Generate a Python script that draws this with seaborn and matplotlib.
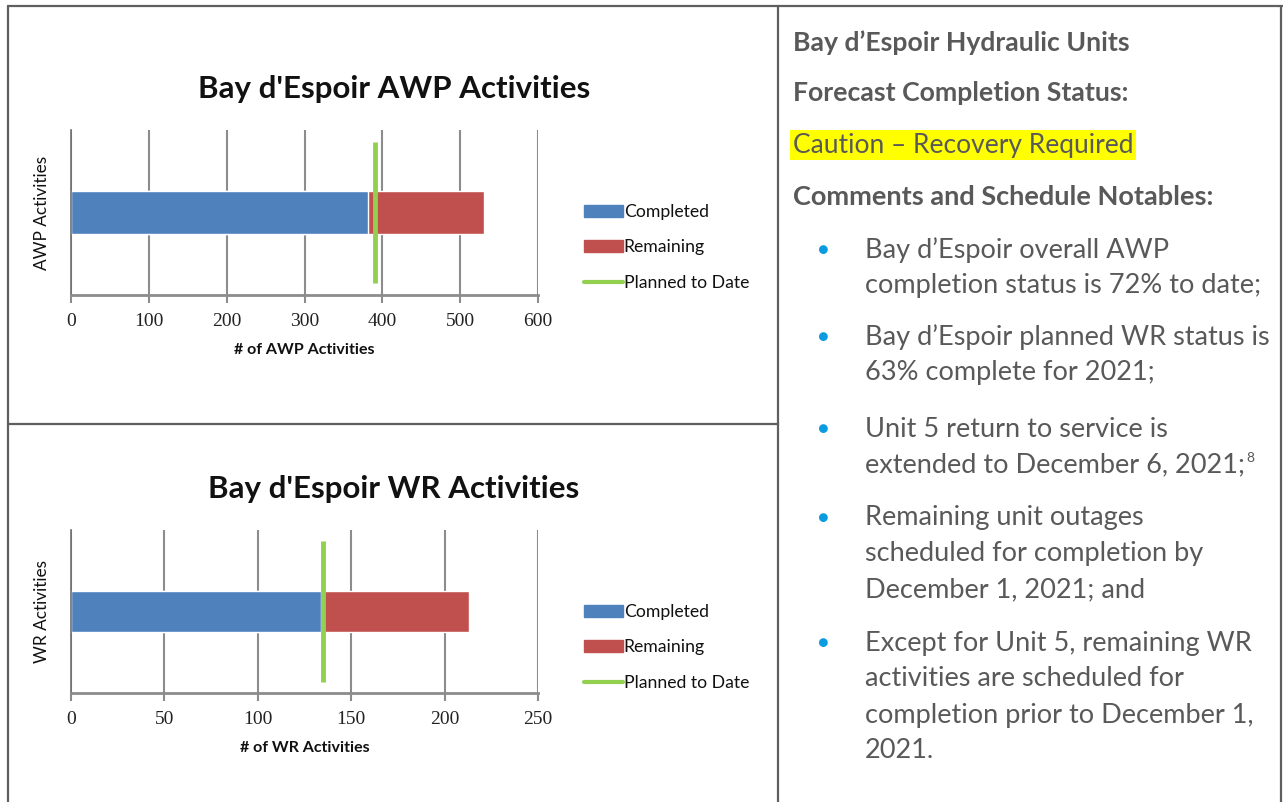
import matplotlib.pyplot as plt
import matplotlib.lines as mlines
import matplotlib.patches as mpatches
import pandas as pd
import seaborn as sns

# values
awp_completed = [381]
awp_remaining = [149]
awp_planned = [391]
wr_completed = [134]
wr_remaining = [79]
wr_planned = [135]

awp_ticks = [0, 100, 200, 300, 400, 500, 600]
wr_ticks = [0, 50, 100, 150, 200, 250]
series_names = ['Completed', 'Remaining', 'Planned to Date']

heading_lines = ['Bay d\u2019Espoir Hydraulic Units', 'Forecast Completion Status:']
status_text = 'Caution \u2013 Recovery Required'
notables_title = 'Comments and Schedule Notables:'
bullets = [
    ['Bay d\u2019Espoir overall AWP', 'completion status is 72% to date;'],
    ['Bay d\u2019Espoir planned WR status is', '63% complete for 2021;'],
    ['Unit 5 return to service is', 'extended to December 6, 2021;'],
    ['Remaining unit outages', 'scheduled for completion by', 'December 1, 2021; and'],
    ['Except for Unit 5, remaining WR', 'activities are scheduled for',
     'completion prior to December 1,', '2021.'],
]

sns.set_theme(style='white')
plt.rcParams['font.family'] = ['Lato', 'DejaVu Sans']

W, H = 1283, 802
fig = plt.figure(figsize=(W / 100, H / 100), dpi=100)

BLUE = '#4F81BD'
RED = '#C0504D'
GREEN = '#92D050'
GRID = '#8c8c8c'
TXT = '#595959'


def px(x, y):
    return x / W, 1 - y / H


def draw_chart(rect, completed, remaining, planned, ticks, title, xlabel, ylabel):
    x0, y0, x1, y1 = rect
    ax = fig.add_axes([x0 / W, 1 - y1 / H, (x1 - x0) / W, (y1 - y0) / H])
    df = pd.DataFrame({'cat': [ylabel],
                       'total': [completed[0] + remaining[0]],
                       'done': completed})
    sns.barplot(data=df, x='total', y='cat', color=RED, saturation=1,
                width=0.255, ax=ax, orient='h')
    sns.barplot(data=df, x='done', y='cat', color=BLUE, saturation=1,
                width=0.255, ax=ax, orient='h')
    ax.vlines(planned, -0.43, 0.43, color=GREEN, lw=3.5, zorder=5)
    ax.set_xlim(ticks[0], ticks[-1])
    ax.set_ylim(0.5, -0.5)
    ax.set_xticks(ticks)
    ax.set_xticklabels([str(t) for t in ticks], family='Liberation Serif')
    ax.grid(axis='x', color=GRID, lw=1.5)
    ax.set_axisbelow(True)
    for s in ['top', 'right']:
        ax.spines[s].set_visible(False)
    ax.spines['bottom'].set_color(GRID)
    ax.spines['bottom'].set_linewidth(2)
    ax.spines['left'].set_color('#6e6e6e')
    ax.spines['left'].set_linewidth(1.2)
    ax.tick_params(axis='x', bottom=True, length=6, width=1.5, color=GRID,
                   labelsize=14, labelcolor='#222222', pad=7)
    ax.set_yticks([])
    ax.set_ylabel(ylabel, fontsize=12.4, color='#111111', labelpad=15)
    ax.set_xlabel(xlabel, fontsize=11.5, fontweight='bold', color='#111111', labelpad=9)
    fig.text(*px(394, y0 - 41), title, fontsize=22.5, fontweight='bold',
             ha='center', va='center', color='#111111')
    handles = [mpatches.Patch(color=BLUE), mpatches.Patch(color=RED),
               mlines.Line2D([], [], color=GREEN, lw=3)]
    fig.legend(handles, series_names, loc='upper left',
               bbox_to_anchor=px(577, y0 + 67), frameon=False, fontsize=12.7,
               handlelength=2.2, handleheight=0.7, handletextpad=0.05,
               labelspacing=1.1, borderaxespad=0, labelcolor='#111111')
    return ax


draw_chart((71, 130, 538, 295), awp_completed, awp_remaining, awp_planned,
           awp_ticks, "Bay d'Espoir AWP Activities", '# of AWP Activities', 'AWP Activities')
draw_chart((71, 530, 538, 693), wr_completed, wr_remaining, wr_planned,
           wr_ticks, "Bay d'Espoir WR Activities", '# of WR Activities', 'WR Activities')

# table borders
border = dict(color='#5f5f5f', lw=1.6)
fig.add_artist(mlines.Line2D([8 / W, 1], [1 - 6 / H] * 2, **border))
fig.add_artist(mlines.Line2D([8 / W] * 2, [0, 1 - 6 / H], **border))
fig.add_artist(mlines.Line2D([778 / W] * 2, [0, 1 - 6 / H], **border))
fig.add_artist(mlines.Line2D([1281 / W] * 2, [0, 1 - 6 / H], **border))
fig.add_artist(mlines.Line2D([8 / W, 778 / W], [1 - 424 / H] * 2, **border))

# right-hand text panel
fig.text(*px(793, 43), heading_lines[0], fontsize=19.2, fontweight='bold', color=TXT, va='center')
fig.text(*px(793, 93), heading_lines[1], fontsize=19.2, fontweight='bold', color=TXT, va='center')
fig.text(*px(793, 145), status_text, fontsize=19, color=TXT, va='center',
         bbox=dict(facecolor='#FFFF00', edgecolor='none', pad=2.0))
fig.text(*px(793, 197), notables_title, fontsize=19.5, fontweight='bold', color=TXT, va='center')

starts = [250, 337, 429, 518, 643]
last_line = None
for i, (lines, y) in enumerate(zip(bullets, starts)):
    fig.text(*px(823, y), '\u25CF', fontsize=13, color='#0A9BE0', ha='center', va='center')
    for j, line in enumerate(lines):
        t = fig.text(*px(865, y + j * 36), line, fontsize=19.5, color=TXT, va='center')
        if i == 2 and j == 1:
            last_line = t

# superscript footnote marker after the Unit 5 line
fig.canvas.draw()
bb = last_line.get_window_extent()
fig.text(bb.x1 / W + 1 / W, (bb.y1 - 6) / H, '8', fontsize=10, color=TXT, va='center')

fig.savefig('out.png', dpi=100, facecolor='white')
